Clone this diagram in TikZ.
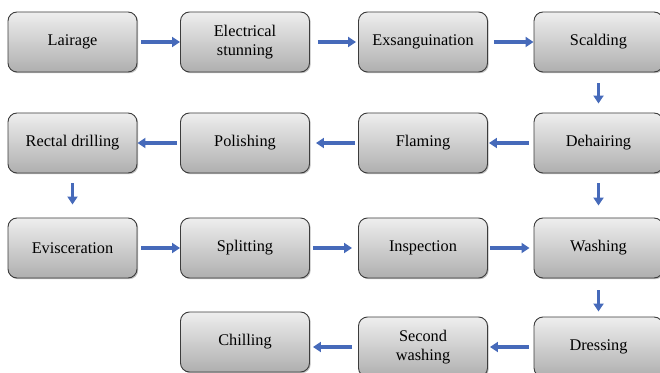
\documentclass[tikz,border=0pt]{standalone}
\usepackage{fontspec}
\setmainfont{Liberation Serif}
\usetikzlibrary{arrows.meta,shadows}
\definecolor{arrblue}{RGB}{70,106,186}
\definecolor{boxtop}{RGB}{238,238,238}
\definecolor{boxbot}{RGB}{175,175,175}
\definecolor{boxline}{RGB}{60,60,60}
\tikzset{
  stepbox/.style={draw=boxline, line width=0.9pt, rounded corners=9pt,
    top color=boxtop, bottom color=boxbot,
    minimum width=129pt, minimum height=60pt, inner sep=0pt,
    align=center, font=\fontsize{16.3}{19.5}\selectfont,
    drop shadow={shadow xshift=1.2pt, shadow yshift=-1.2pt, opacity=0.25, fill=black}},
  arr/.style={draw=arrblue, line width=3.2pt, -{Triangle[length=8pt,width=10pt]}}
}
\begin{document}
\begin{tikzpicture}[x=1pt,y=1pt]
\useasboundingbox (0,0) rectangle (660,372);
\clip (0,0) rectangle (660,372);
% row 1 (y = 372-42 = 330)
\node[stepbox] (lair) at (72.5,330) {Lairage};
\node[stepbox] (elec) at (245,330) {Electrical\\stunning};
\node[stepbox] (exsa) at (423,330) {Exsanguination};
\node[stepbox] (scal) at (598.5,330) {Scalding};
% row 2 (y = 372-143 = 229)
\node[stepbox] (rect) at (72.5,229) {Rectal drilling};
\node[stepbox] (poli) at (245,229) {Polishing};
\node[stepbox] (flam) at (423,229) {Flaming};
\node[stepbox] (deha) at (598.5,229) {Dehairing};
% row 3 (y = 372-248 = 124)
\node[stepbox] (evis) at (72.5,124) {Evisceration};
\node[stepbox] (spli) at (245,124) {Splitting};
\node[stepbox] (insp) at (423,124) {Inspection};
\node[stepbox] (wash) at (598.5,124) {Washing};
% row 4
\node[stepbox] (chil) at (245,30) {Chilling};
\node[stepbox] (secw) at (423,25) {Second\\washing};
\node[stepbox] (dres) at (598.5,25) {Dressing};
% arrows row 1
\draw[arr, shorten <=4pt, shorten >=0pt] (lair) -- (elec);
\draw[arr, shorten <=8pt, shorten >=2pt] (elec) -- (exsa);
\draw[arr, shorten <=6pt, shorten >=0pt] (exsa) -- (scal);
\draw[arr, shorten <=11pt, shorten >=9pt] (scal) -- (deha);
% row 2
\draw[arr, shorten <=5pt, shorten >=1pt] (deha) -- (flam);
\draw[arr, shorten <=3pt, shorten >=6pt] (flam) -- (poli);
\draw[arr, shorten <=3pt, shorten >=0pt] (poli) -- (rect);
\draw[arr, shorten <=10pt, shorten >=13pt] (rect) -- (evis);
\draw[arr, shorten <=10pt, shorten >=12pt] (deha) -- (wash);
% row 3
\draw[arr, shorten <=4pt, shorten >=0pt] (evis) -- (spli);
\draw[arr, shorten <=3pt, shorten >=6pt] (spli) -- (insp);
\draw[arr, shorten <=2pt, shorten >=4pt] (insp) -- (wash);
\draw[arr, shorten <=12pt, shorten >=5pt] (wash) -- (dres);
% row 4
\draw[arr, shorten <=5pt, shorten >=2pt] (dres) -- (secw);
\draw[arr, shorten <=6pt, shorten >=3pt] (secw.west) -- (chil.east |- secw.west);
\end{tikzpicture}
\end{document}
